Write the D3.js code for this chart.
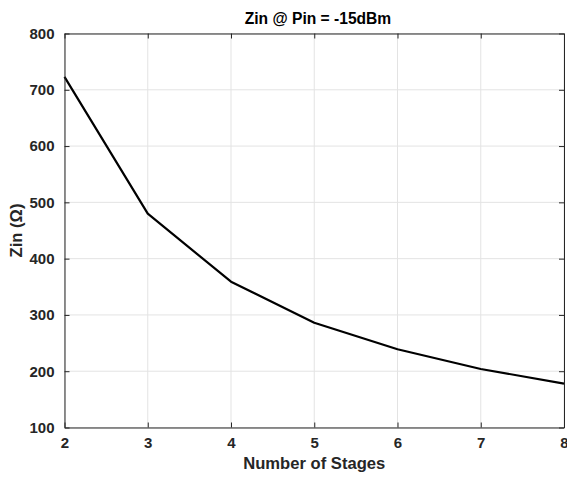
<!DOCTYPE html>
<html><head><meta charset="utf-8">
<script src="https://cdn.jsdelivr.net/npm/d3@7"></script>
<style>body{margin:0;background:#fff}</style>
</head><body>
<svg id="c" width="567" height="479"></svg>
<script>
const stages = [2, 3, 4, 5, 6, 7, 8];
const zin = [723, 480, 359, 286, 239, 204, 178];
const xTicks = [2, 3, 4, 5, 6, 7, 8];
const yTicks = [100, 200, 300, 400, 500, 600, 700, 800];

(function () {
const svg = d3.select("#c");
const m = {l: 64.5, r: 564, t: 33.5, b: 427.5};
const x = d3.scaleLinear().domain([2, 8]).range([m.l, m.r]);
const y = d3.scaleLinear().domain([100, 800]).range([m.b, m.t]);
const font = "'Liberation Sans', Arial, sans-serif";
const axc = "#262626";

// grid
svg.append("g").selectAll("line").data(xTicks).join("line")
  .attr("x1", d => x(d)).attr("x2", d => x(d)).attr("y1", m.t).attr("y2", m.b)
  .attr("stroke", "#e3e3e3").attr("stroke-width", 1);
svg.append("g").selectAll("line").data(yTicks).join("line")
  .attr("y1", d => y(d)).attr("y2", d => y(d)).attr("x1", m.l).attr("x2", m.r)
  .attr("stroke", "#e3e3e3").attr("stroke-width", 1);

// line
svg.append("path").datum(stages.map((s, i) => [s, zin[i]]))
  .attr("d", d3.line().x(d => x(d[0])).y(d => y(d[1])))
  .attr("fill", "none").attr("stroke", "#000").attr("stroke-width", 2.2)
  .attr("stroke-linejoin", "round");

// axes
const tl = 5;
const gB = svg.append("g").attr("transform", `translate(0,${m.b})`)
  .call(d3.axisBottom(x).tickValues(xTicks).tickSizeInner(-tl).tickSizeOuter(0).tickPadding(10).tickFormat(d3.format("d")));
const gT = svg.append("g").attr("transform", `translate(0,${m.t})`)
  .call(d3.axisTop(x).tickValues(xTicks).tickSizeInner(-tl).tickSizeOuter(0).tickFormat(""));
const gL = svg.append("g").attr("transform", `translate(${m.l},0)`)
  .call(d3.axisLeft(y).tickValues(yTicks).tickSizeInner(-tl).tickSizeOuter(0).tickPadding(10));
const gR = svg.append("g").attr("transform", `translate(${m.r},0)`)
  .call(d3.axisRight(y).tickValues(yTicks).tickSizeInner(-tl).tickSizeOuter(0).tickFormat(""));
[gB, gT, gL, gR].forEach(g => {
  g.selectAll("path,line").attr("stroke", axc).attr("stroke-width", 1);
  g.selectAll("text").attr("fill", axc).attr("font-family", font)
    .attr("font-size", 15).attr("font-weight", "bold");
});

// titles
svg.append("text").attr("x", 318).attr("y", 24).attr("text-anchor", "middle")
  .attr("font-family", font).attr("font-size", 15.6).attr("font-weight", "bold").attr("fill", "#000")
  .text("Zin @ Pin = -15dBm");
svg.append("text").attr("x", (m.l + m.r) / 2).attr("y", 469).attr("text-anchor", "middle")
  .attr("font-family", font).attr("font-size", 16.6).attr("font-weight", "bold").attr("fill", axc)
  .text("Number of Stages");
svg.append("text").attr("transform", `translate(22,${(m.t + m.b) / 2}) rotate(-90)`).attr("text-anchor", "middle")
  .attr("font-family", font).attr("font-size", 16.6).attr("font-weight", "bold").attr("fill", axc)
  .text("Zin (Ω)");
})();
</script>
</body></html>
